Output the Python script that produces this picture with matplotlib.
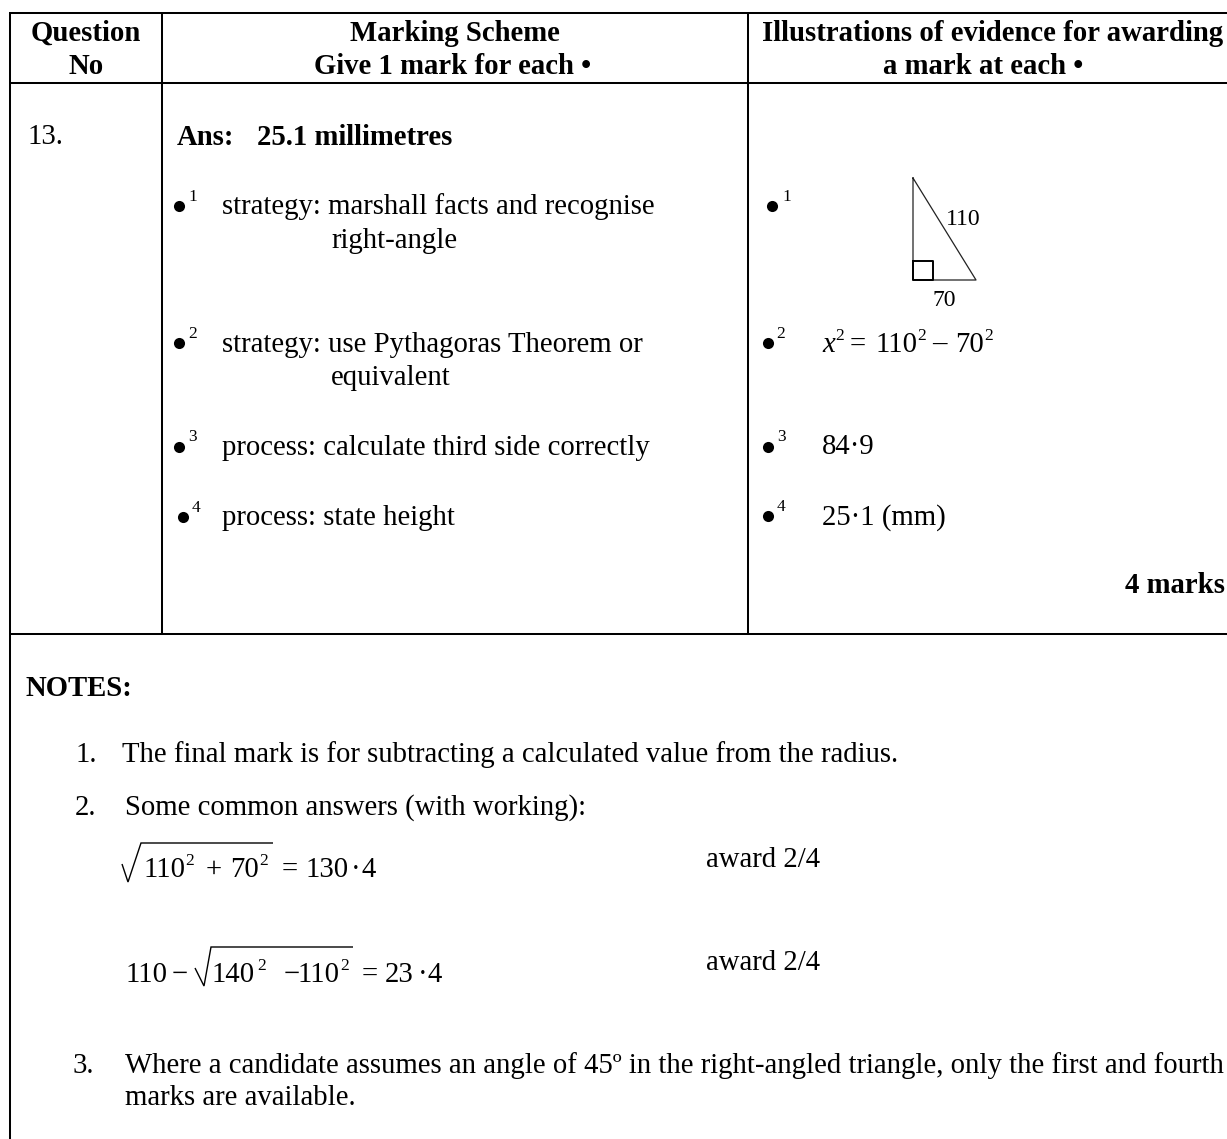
import matplotlib
matplotlib.use("Agg")
import matplotlib.pyplot as plt

W, H = 1227, 1139
FS = 20.7
SUP = 12.5

plt.rcParams["font.family"] = ["Liberation Serif", "DejaVu Serif"]

headers = [("Question", "No"),
           ("Marking Scheme", "Give 1 mark for each \u2022"),
           ("Illustrations of evidence for awarding", "a mark at each \u2022")]
scheme = ["strategy: marshall facts and recognise", "right-angle",
          "strategy: use Pythagoras Theorem or", "equivalent",
          "process: calculate third side correctly", "process: state height"]
evidence = ["84\u00b79", "25\u00b71 (mm)"]
triangle_labels = ["110", "70"]
notes = ["The final mark is for subtracting a calculated value from the radius.",
         "Some common answers (with working):",
         "Where a candidate assumes an angle of 45\u00ba in the right-angled triangle, only the first and fourth",
         "marks are available."]
award = "award 2/4"

fig = plt.figure(figsize=(W / 100, H / 100), dpi=100)
ax = fig.add_axes([0, 0, 1, 1])
ax.set_xlim(0, W)
ax.set_ylim(H, 0)
ax.axis("off")


def txt(x, y, s, ha="left", bold=False, size=FS, style="normal"):
    ax.text(x, y, s, ha=ha, va="baseline", fontsize=size, color="black",
            fontweight="bold" if bold else "normal", fontstyle=style)


def bullet(x, y, n, dx=9, dy=5):
    ax.plot([x], [y], "o", color="black", ms=8, mew=0)
    txt(x + dx, y - dy, n, size=SUP)


def rule(xs, ys, lw=1.45):
    ax.plot(xs, ys, color="black", lw=lw, solid_capstyle="butt", solid_joinstyle="miter")


def pieces(y, items):
    # items: (x, text) on the baseline; "^" prefix = superscript
    for x, s in items:
        if s.startswith("^"):
            txt(x, y - 12, s[1:], size=SUP)
        else:
            txt(x, y, s)


# table rules
rule([9, W], [13, 13])
rule([9, W], [83, 83])
rule([9, W], [634, 634])
rule([10, 10], [13, H])
rule([162, 162], [13, 634])
rule([748, 748], [13, 634])

# header
for (cx1, cx2), (a, b) in zip([(86, 86), (455, 453), (993, 983)], headers):
    txt(cx1, 41, a, ha="center", bold=True)
    txt(cx2, 74, b, ha="center", bold=True)

# question row
txt(27, 144, "13.")
txt(177, 145, "Ans:", bold=True)
txt(257, 145, "25.1 millimetres", bold=True)

bullet(179, 206, "1")
txt(222, 214, scheme[0])
txt(331, 248, scheme[1])
bullet(179, 343, "2")
txt(222, 352, scheme[2])
txt(331, 385, scheme[3])
bullet(179, 447, "3", dy=6)
txt(222, 455, scheme[4])
bullet(183, 517, "4")
txt(222, 525, scheme[5])

# evidence column
bullet(772, 206, "1", dx=10)
ax.plot([913, 913, 976, 913], [178, 280, 280, 178], color="#222222", lw=0.9)
ax.plot([913, 933, 933, 913, 913], [261, 261, 280, 280, 261], color="black", lw=1.4)
txt(946, 225, triangle_labels[0], size=17)
txt(932, 306, triangle_labels[1], size=17)
bullet(768, 343, "2", dx=8)
txt(822, 352, "x", style="italic")
pieces(352, [(835, "^2"), (850, "="), (875, "110"), (917, "^2"), (932, "\u2013"),
             (955, "70"), (984, "^2")])
bullet(768, 447, "3", dx=9, dy=6)
txt(822, 454, evidence[0])
bullet(768, 516, "4", dx=9)
txt(822, 525, evidence[1])
txt(1225, 593, "4 marks", ha="right", bold=True)

# notes
txt(25, 696, "NOTES:", bold=True)
txt(75, 762, "1.")
txt(122, 762, notes[0])
txt(75, 815, "2.")
txt(125, 815, notes[1])

rule([122, 128, 141, 273], [864, 882, 843, 843], lw=1.0)
pieces(877, [(143, "110"), (185, "^2"), (206, "+"), (230, "70"), (259, "^2"),
             (282, "="), (305, "130"), (351, "\u00b7"), (362, "4")])
txt(706, 867, award)

rule([195, 204, 211, 353], [968, 986, 947, 947], lw=1.0)
pieces(982, [(125, "110"), (172, "\u2212"), (212, "140"), (257, "^2"), (284, "\u2212"),
             (298, "110"), (340, "^2"), (362, "="), (385, "23"), (418, "\u00b7"), (428, "4")])
txt(706, 970, award)

txt(73, 1073, "3.")
txt(125, 1073, notes[2])
txt(125, 1105, notes[3])

fig.savefig("out.png", dpi=100)
